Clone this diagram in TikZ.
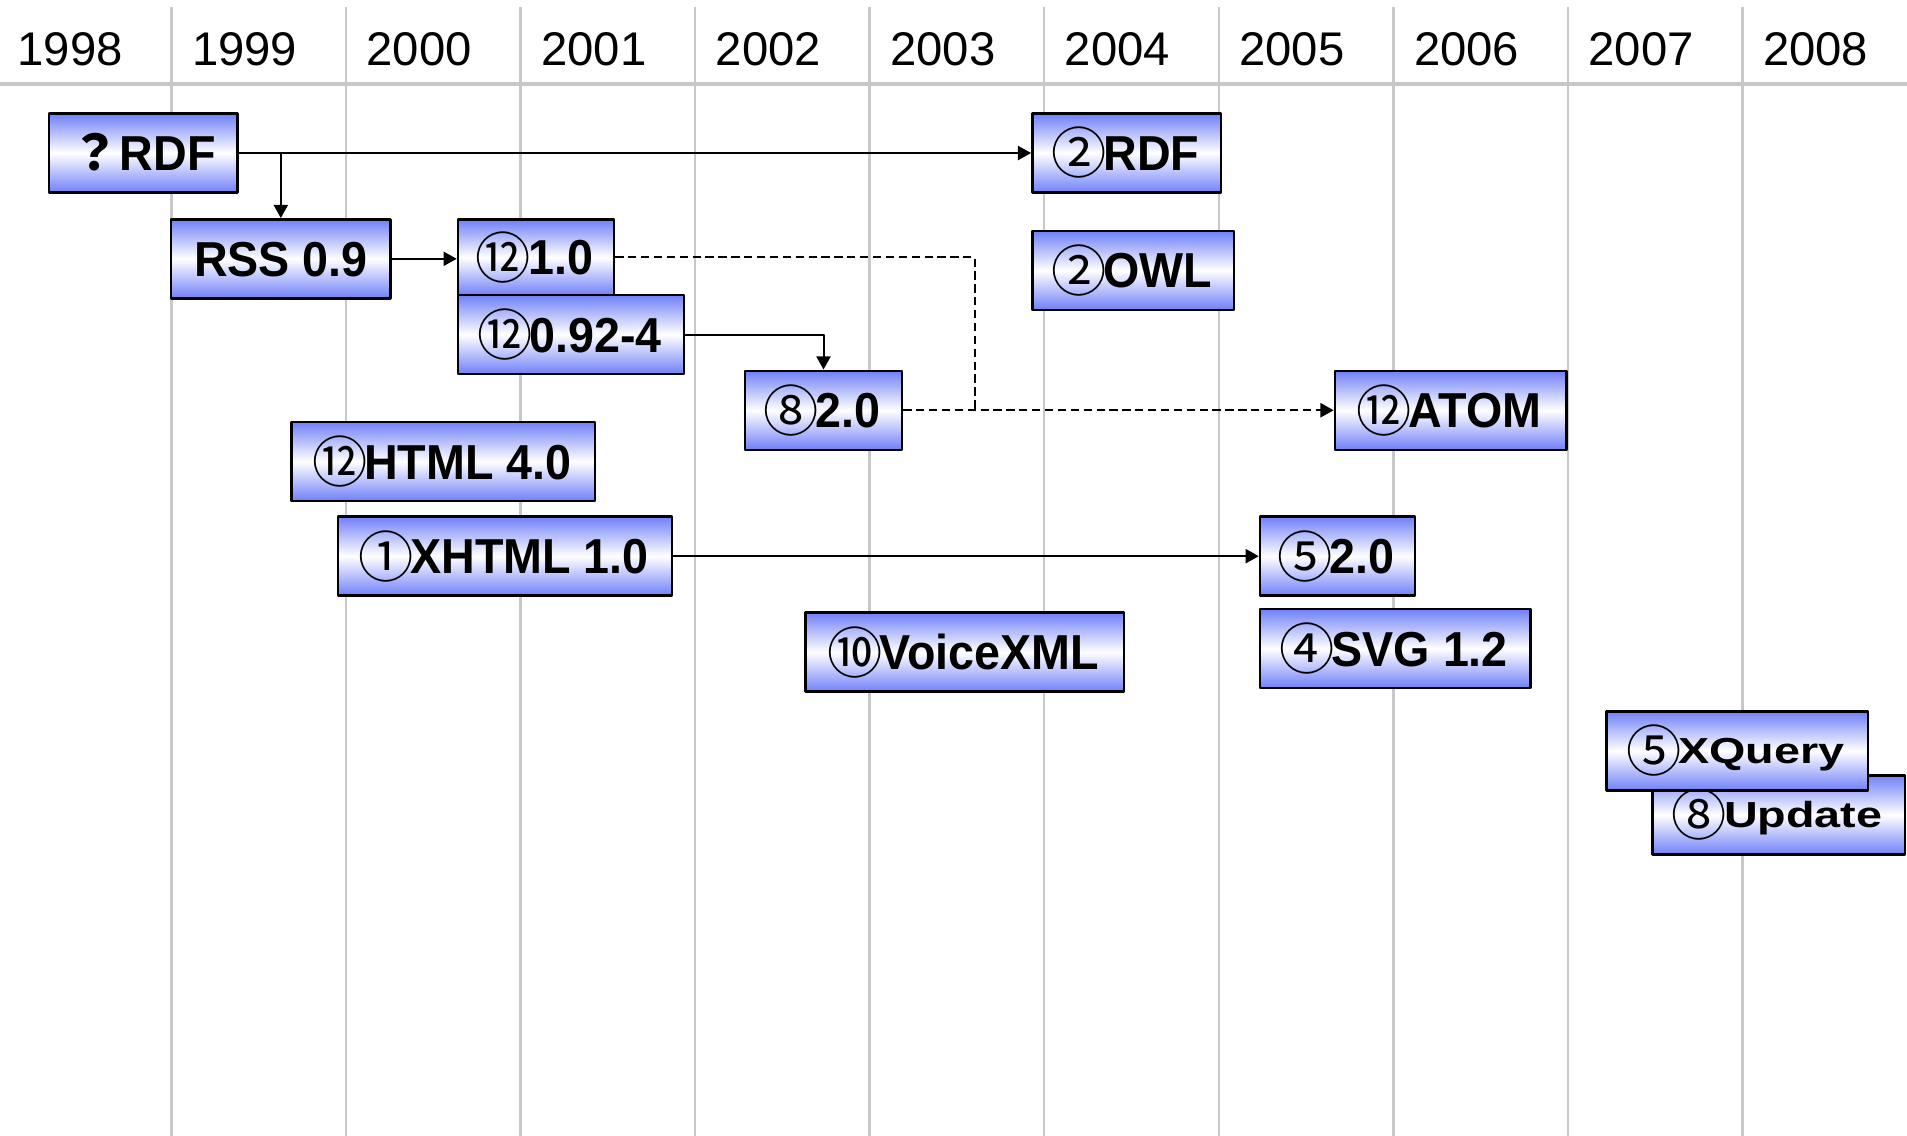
\documentclass[tikz,border=0pt]{standalone}
\usepackage{fontspec}
\setmainfont{Liberation Sans}
\newfontfamily\cajafont[FakeStretch=0.95]{Liberation Sans}
\newfontfamily\anchafont[FakeStretch=1.29]{Liberation Sans}
\newfontfamily\cjk{Noto Sans CJK JP}
\usetikzlibrary{math, calc, arrows.meta}
\def\px{0.013932cm}
\definecolor{azulcaja}{RGB}{112,128,248}
\definecolor{gris}{RGB}{200,200,200}
% número en círculo: #1 = desplazamiento vertical, #2 = carácter
\newcommand\circnum[2][-1.1pt]{%
	\kern-1pt\raisebox{#1}{\cjk\mdseries\fontsize{18}{18}\selectfont#2}\kern-1pt}

\begin{document}
\begin{tikzpicture}[
	% Propiedades generales del dibujo
	x = \px, y = -\px,
	line join = round,
	% Definición de nuevos estilos
	% 	a. cajas de las especificaciones:
	%		el argumento #1 indica el ancho de la caja
	caja/.style = {
		draw = black, line width = 0.8pt,
		top color = azulcaja, bottom color = azulcaja,
		middle color = white,
		minimum width = #1*\px, minimum height = 65*\px,
		inner sep = 0pt,
		text height = 13pt, text depth = 1.54pt,
		font = \cajafont\bfseries\fontsize{16}{16}\selectfont
	},
	%	b. cajas con letra ancha
	cajaancha/.style = {
		caja = #1,
		text height = 9.5pt, text depth = 1.05pt,
		font = \anchafont\bfseries\fontsize{11.8}{11.8}\selectfont
	},
	%	c. años
	anio/.style = {
		inner sep = 0pt,
		font = \fontsize{15.4}{15.4}\selectfont
	},
	%	d. rejilla
	rejilla/.style = {
		draw = gris, line width = 0.8pt
	},
	%	e. flechas
	flecha/.style = {
		line width = 0.65pt,
		arrows = -{Triangle[length = 4.3pt, width = 4.6pt]}
	},
	discontinua/.style = {
		line width = 0.65pt,
		dash pattern = on 2.7pt off 1.5pt
	},
]

	% márgenes del dibujo
	\useasboundingbox (0,0) rectangle (1568.3,934.2);

	% definición de las variables
	\tikzmath{
		\col = 143.55; % ancho de cada año
		\xo = 141;     % primera línea vertical
	}

	% rejilla y años
	\foreach \i in {0,...,9}
		\draw[rejilla] ({\xo + \col*\i},6) -- ({\xo + \col*\i},934.2);
	\draw[rejilla, line width = 1.1pt] (0,69) -- (1568.3,69);

	\foreach \i in {0,...,10}{
		\pgfmathtruncatemacro\anio{1998 + \i}
		\node[anio, anchor = base west] (a\anio)
			at ({\xo - \col + 16.5 + \col*\i},53.5) {\anio};
	}

	% cajas
	\node[caja = 154.9] (rdf) at (117.75,125.85) {{\cjk？}RDF};
	\node[caja = 155.3] (rdfdos) at (926.65,125.85) {\circnum{②}RDF};
	\node[caja = 166] (owl) at (932,222.35) {\circnum{②}OWL};

	\node[caja = 180.7] (rss) at (230.95,212.85) {RSS 0.9};
	\node[caja = 128.4, minimum height = 62.6*\px] (rssuno)
		at (440.8,211.7) {\circnum{⑫}1.0};
	\node[caja = 185.7] (rssnn) at (469.45,275.1) {\circnum{⑫}0.92-4};
	\node[caja = 129.1] (rssdos) at (677.25,337.4) {\circnum{⑧}2.0};
	\node[caja = 190.4] (atom) at (1193,337.4) {\circnum{⑫}ATOM};

	\node[caja = 249.5] (html) at (364.55,379.5) {\circnum{⑫}HTML 4.0};
	\node[caja = 274.8] (xhtml) at (415.4,457.4) {\circnum{①}XHTML 1.0};
	\node[caja = 127.5] (xhtmldos) at (1099.95,457.4) {\circnum{⑤}2.0};

	\node[caja = 261.8] (voice) at (793.5,536.3) {\circnum{⑩}VoiceXML};
	\node[caja = 222.4] (svg) at (1147.4,533.4) {\circnum{④}SVG 1.2};

	\node[cajaancha = 207.6] (update) at (1462.8,670.15)
		{\circnum[-2.6pt]{⑧}Update};
	\node[cajaancha = 215] (xquery) at (1428.5,617.5)
		{\circnum[-2.6pt]{⑤}XQuery};

	% flechas
	\draw[flecha] (rdf.east) -- (rdfdos.west);
	\draw[flecha] (rss.north |- rdf.east) -- (rss.north);
	\draw[flecha] (rss.east) -- (rss.east -| rssuno.west);
	\draw[flecha] (rssnn.east) -| (rssdos.north);
	\draw[flecha] (xhtml.east) -- (xhtmldos.west);

	% líneas discontinuas hacia ATOM
	\coordinate (codo) at (801.8,337.4);
	\draw[discontinua] (rssuno.east) -| (codo);
	\draw[discontinua, flecha] (rssdos.east) -- (atom.west);

\end{tikzpicture}
\end{document}
